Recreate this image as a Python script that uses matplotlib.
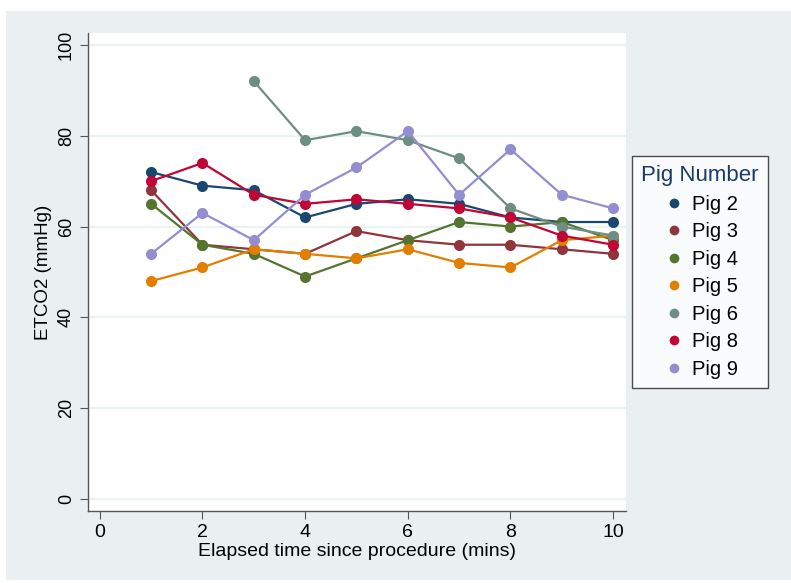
import numpy as np
import matplotlib.pyplot as plt
from matplotlib.patches import Rectangle

nan = np.nan
minutes = [1, 2, 3, 4, 5, 6, 7, 8, 9, 10]
pig2 = [72, 69, 68, 62, 65, 66, 65, 62, 61, 61]
pig3 = [68, 56, 55, 54, 59, 57, 56, 56, 55, 54]
pig4 = [65, 56, 54, 49, 53, 57, 61, 60, 61, 57]
pig5 = [48, 51, 55, 54, 53, 55, 52, 51, 57, 58]
pig6 = [nan, nan, 92, 79, 81, 79, 75, 64, 60, 58]
pig8 = [70, 74, 67, 65, 66, 65, 64, 62, 58, 56]
pig9 = [54, 63, 57, 67, 73, 81, 67, 77, 67, 64]

series = [("Pig 2", pig2, "#1a476f"),
          ("Pig 3", pig3, "#90353b"),
          ("Pig 4", pig4, "#55752f"),
          ("Pig 5", pig5, "#e37e00"),
          ("Pig 6", pig6, "#6e8e84"),
          ("Pig 8", pig8, "#c10534"),
          ("Pig 9", pig9, "#938dd2")]

bg = "#eaf0f2"
fig = plt.figure(figsize=(7.91, 5.83), dpi=100)
fig.patch.set_facecolor("white")
fig.patches.append(Rectangle((6 / 791, 3 / 583), 785 / 791, 569 / 583,
                             transform=fig.transFigure, facecolor=bg,
                             edgecolor="none", zorder=-10))

ax = fig.add_axes([88 / 791, 72 / 583, 538 / 791, 478 / 583])
ax.set_facecolor("white")

for name, vals, col in series:
    ax.plot(minutes, vals, color=col, lw=1.6, marker="o", ms=8,
            markeredgewidth=0, label=name)

ax.set_xlim(-0.23, 10.25)
ax.set_ylim(-2.6, 102.6)
ax.set_xticks([0, 2, 4, 6, 8, 10])
ax.set_yticks([0, 20, 40, 60, 80, 100])
ax.grid(axis="y", color="#eaf2f3", lw=1.5)
ax.set_axisbelow(True)
for s in ["top", "right"]:
    ax.spines[s].set_visible(False)
for s in ["left", "bottom"]:
    ax.spines[s].set_color("#555555")
    ax.spines[s].set_linewidth(1.0)
ax.tick_params(axis="both", direction="out", length=6, color="#555555",
               labelsize=13, labelcolor="black")
for lab in ax.get_yticklabels():
    lab.set_rotation(90)
    lab.set_va("center")
    lab.set_family("Liberation Sans")
for lab in ax.get_xticklabels():
    lab.set_family(["Liberation Sans Narrow", "Liberation Sans", "DejaVu Sans"])
    lab.set_fontsize(14)

ax.set_ylabel("ETCO2 (mmHg)", fontsize=13.5, family="Liberation Sans", labelpad=4)
ax.set_xlabel("Elapsed time since procedure (mins)", fontsize=14,
              family=["Liberation Sans Narrow", "Liberation Sans"], labelpad=1)

handles = [plt.Line2D([], [], color=c, marker="o", ls="none", ms=7,
                      markeredgewidth=0) for _, _, c in series]
leg = fig.legend(handles, [n for n, _, _ in series], title="Pig Number",
                 loc="center left", bbox_to_anchor=(632 / 791, 311 / 583),
                 prop={"family": "Liberation Sans", "size": 14.5},
                 title_fontproperties={"family": "Liberation Sans", "size": 16},
                 fancybox=False, frameon=True, handletextpad=0.3,
                 labelspacing=0.42, borderpad=0.45, borderaxespad=0,
                 handlelength=1.2)
leg.get_title().set_color("#1a3a6a")
leg.get_frame().set_edgecolor("#222222")
leg.get_frame().set_linewidth(1.0)

fig.savefig("out.png", dpi=100)
